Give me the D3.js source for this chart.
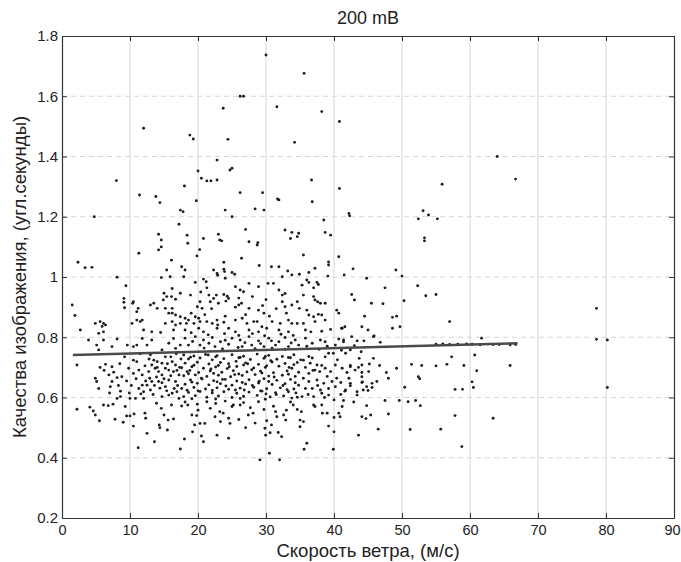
<html lang="ru">
<head>
    <title>200 mB</title>
    <meta charset="utf-8">
    <script src="https://d3js.org/d3.v7.min.js"></script>
    <style>
        body { margin: 0; background: #fff; }
        .chart text { font-family: "Liberation Sans", Arial, sans-serif; fill: #222; }
        .axis path, .axis line { stroke: #333; }
        .axis text { font-size: 15px; }
    </style>
</head>
<body>
<svg class="chart"></svg>
<script>
// ---- data ----
var xTicks = [0, 10, 20, 30, 40, 50, 60, 70, 80, 90];
var xTickLabels = ["0", "10", "20", "30", "40", "50", "60", "70", "80", "90"];
var yTicks = [0.2, 0.4, 0.6, 0.8, 1.0, 1.2, 1.4, 1.6, 1.8];
var yTickLabels = ["0.2", "0.4", "0.6", "0.8", "1", "1.2", "1.4", "1.6", "1.8"];

// fit line: speed vs seeing
var trendSpeed = [1.6, 67];
var trendSeeing = [0.741, 0.780];

// sparse outliers, seeing > 1.1
var pointsHigh = [
    [30.0,1.737],[35.6,1.676],[26.2,1.600],[26.7,1.600],[23.7,1.560],[31.6,1.565],[38.2,1.549],[40.8,1.516],
    [12.0,1.494],[18.8,1.471],[19.3,1.458],[24.4,1.457],[34.2,1.447],[64.0,1.400],[22.8,1.388],[25.0,1.361],
    [24.7,1.355],[20.0,1.352],[20.5,1.328],[21.3,1.319],[21.9,1.319],[22.8,1.322],[8.0,1.320],[36.7,1.322],
    [66.7,1.325],[55.9,1.308],[18.0,1.302],[40.8,1.294],[11.4,1.272],[13.8,1.267],[26.2,1.280],[29.5,1.280],
    [31.7,1.259],[14.4,1.247],[19.75,1.253],[31.9,1.256],[36.8,1.250],[4.75,1.200],[17.4,1.222],[17.8,1.217],
    [24.0,1.222],[28.4,1.226],[29.7,1.222],[25.0,1.200],[17.2,1.175],[42.2,1.211],[42.3,1.203],[38.5,1.189],
    [53.1,1.220],[52.4,1.193],[53.9,1.206],[55.2,1.193],[27.0,1.158],[32.8,1.156],[33.8,1.148],[34.8,1.145],
    [38.7,1.148],[39.5,1.139],[14.2,1.142],[14.6,1.123],[18.4,1.139],[18.5,1.112],[20.8,1.128],[23.0,1.142],
    [23.2,1.123],[23.5,1.120],[27.5,1.117],[28.8,1.114],[28.7,1.106],[33.6,1.128],[34.6,1.134],[53.3,1.120],
    [53.3,1.130]
];

// 0.8 .. 1.1
var pointsUpper = [
    [14.6,1.100],[14.2,1.090],[11.3,1.079],[16.1,1.056],[2.35,1.049],[3.4,1.031],[4.4,1.032],[15.4,1.023],
    [8.1,0.999],[14.6,0.998],[9.4,0.971],[16.2,0.962],[15.0,0.946],[15.4,0.935],[16.1,0.935],[16.7,0.926],
    [17.4,0.946],[1.5,0.907],[1.9,0.872],[9.1,0.929],[9.1,0.916],[9.2,0.898],[10.4,0.913],[13.0,0.907],
    [13.5,0.913],[14.0,0.896],[15.2,0.896],[16.2,0.896],[16.2,0.880],[16.7,0.874],[17.4,0.868],[11.0,0.885],
    [15.7,0.880],[4.9,0.846],[5.6,0.852],[6.1,0.846],[6.4,0.841],[5.9,0.836],[2.7,0.824],[10.3,0.846],
    [11.0,0.857],[11.5,0.852],[11.8,0.857],[15.2,0.846],[16.2,0.852],[16.7,0.841],[17.4,0.846],[12.0,0.824],
    [13.2,0.818],[14.5,0.816],[16.4,0.824],[5.4,0.813],[6.1,0.818],[10.5,0.918],[15.9,1.001],[14.9,0.924],
    [11.2,0.896],
    [20.25,1.091],[19.85,1.070],[26.4,1.062],[23.8,1.049],[17.6,1.034],[18.1,1.023],[29.0,1.038],[30.8,1.034],
    [31.9,1.034],[23.8,1.026],[23.9,1.018],[22.3,1.023],[22.8,1.012],[22.9,1.006],[33.2,1.020],[32.4,1.001],
    [33.8,1.007],[34.9,1.009],[25.0,1.015],[25.4,1.009],[17.9,1.001],[19.6,0.982],[20.8,0.993],[21.2,0.984],
    [24.0,0.996],[21.3,0.964],[25.5,0.968],[26.2,0.957],[26.7,0.951],[27.5,0.979],[28.9,0.968],[30.3,0.979],
    [31.1,0.979],[31.9,0.957],[32.4,0.940],[32.8,0.945],[18.9,0.940],[21.6,0.940],[22.3,0.929],[22.7,0.940],
    [23.8,0.942],[24.3,0.936],[20.3,0.918],[21.8,0.918],[23.0,0.913],[24.1,0.920],[24.5,0.929],[26.0,0.907],
    [26.4,0.913],[27.5,0.896],[28.9,0.890],[29.7,0.880],[32.4,0.918],[32.8,0.901],[33.8,0.907],[34.6,0.918],
    [34.9,0.896],[19.9,0.901],[20.6,0.896],[18.1,0.863],[18.6,0.857],[19.6,0.868],[20.1,0.863],[20.3,0.852],
    [19.4,0.846],[18.3,0.846],[21.3,0.852],[22.1,0.846],[22.8,0.857],[22.9,0.841],[23.8,0.850],[25.5,0.857],
    [26.5,0.863],[27.2,0.846],[28.2,0.852],[28.7,0.852],[29.4,0.835],[30.9,0.852],[32.1,0.846],[33.3,0.857],
    [33.8,0.846],[34.6,0.846],[18.1,0.824],[20.1,0.830],[20.8,0.818],[22.8,0.830],[24.5,0.830],[25.5,0.818],
    [27.5,0.824],[28.9,0.818],[30.1,0.830],[31.9,0.824],[33.3,0.818],
    [35.5,1.073],[40.7,1.067],[39.2,1.040],[39.2,1.050],[37.2,1.029],[36.3,1.015],[39.1,1.003],[36.0,0.990],
    [36.3,0.982],[37.5,0.982],[37.7,0.975],[35.3,0.973],[37.0,0.964],[35.5,0.940],[37.0,0.935],[37.2,0.924],
    [37.6,0.918],[38.0,0.913],[38.7,0.913],[36.0,0.890],[36.3,0.874],[37.0,0.868],[37.7,0.876],[38.2,0.874],
    [40.4,0.890],[40.7,0.880],[35.5,0.846],[37.2,0.852],[38.7,0.857],[41.2,0.830],[35.8,0.824],[36.6,0.818],
    [38.2,0.820],[39.5,0.826],
    [42.8,1.027],[41.5,1.007],[44.8,0.996],[49.1,1.023],[50.0,1.003],[52.3,0.971],[47.5,0.964],[53.5,0.938],
    [55.0,0.942],[42.6,0.942],[43.0,0.924],[45.5,0.913],[47.2,0.911],[50.3,0.921],[78.6,0.896],[44.5,0.870],
    [48.6,0.866],[49.2,0.870],[57.0,0.852],[41.6,0.835],[41.1,0.830],[44.1,0.835],[45.0,0.824],[48.6,0.830],
    [49.7,0.835],[45.9,0.804],[42.6,0.802],
    [19.0,0.880],[21.0,0.875],[24.0,0.870],[27.0,0.875],[30.5,0.870],[33.0,0.880],[25.5,0.900],[29.5,0.905],
    [31.5,0.895],[22.0,0.895],[20.4,0.950],[28.0,0.935],[30.0,0.925],[26.0,0.930],[19.0,0.815],[21.5,0.808],
    [23.9,0.812],[26.0,0.806],[28.0,0.812],[29.8,0.805],[32.2,0.810],[34.0,0.806]
];

// dense band 0.59 .. 0.8
var pointsCore = [
    [3.9,0.791],[5.1,0.774],[5.4,0.758],[6.1,0.791],[7.35,0.769],[8.1,0.794],[9.6,0.774],[10.5,0.769],
    [11.0,0.774],[11.8,0.796],[12.5,0.774],[13.2,0.791],[14.7,0.758],[15.7,0.780],[16.4,0.796],[16.7,0.763],
    [17.4,0.774],[2.2,0.708],[5.6,0.700],[6.4,0.710],[7.35,0.702],[4.9,0.664],[5.1,0.653],[5.4,0.630],
    [6.9,0.675],[7.6,0.684],[8.1,0.666],[8.8,0.669],[7.35,0.653],[7.1,0.636],[9.8,0.697],[10.5,0.680],
    [11.3,0.691],[11.8,0.675],[10.5,0.724],[11.0,0.719],[8.1,0.597],[8.6,0.603],[10.0,0.597],[10.8,0.597],
    [12.0,0.597],[8.6,0.621],[11.3,0.630],[11.8,0.641],[12.5,0.641],[13.0,0.625],[12.0,0.619],[13.2,0.708],
    [13.7,0.697],[12.75,0.686],[14.2,0.686],[14.7,0.675],[15.2,0.697],[15.7,0.691],[14.7,0.714],[14.0,0.719],
    [13.5,0.724],[16.2,0.719],[16.7,0.708],[16.4,0.686],[17.2,0.675],[13.2,0.653],[14.2,0.653],[14.7,0.649],
    [15.2,0.636],[15.7,0.658],[16.7,0.653],[16.9,0.619],[16.2,0.614],[15.7,0.608],[14.7,0.603],[17.2,0.597],
    [13.9,0.668],[15.0,0.662],[16.0,0.672],[17.0,0.640],[13.6,0.640],[15.4,0.622],[16.5,0.630],[17.3,0.700],
    [12.9,0.664],[14.4,0.631],[17.5,0.728],[16.0,0.735],[9.2,0.735],[12.2,0.705],[8.5,0.712],
    [9.5,0.655],[10.2,0.640],[10.9,0.662],[11.6,0.612],[12.3,0.655],[13.4,0.610],[14.0,0.700],[15.5,0.712],
    [16.9,0.690],[12.8,0.728],[9.9,0.615],[8.3,0.640],[7.0,0.615],[6.2,0.690],[13.0,0.742],[15.2,0.735],
    [16.8,0.745],[11.5,0.745],
    [18.1,0.797],[19.6,0.802],[20.8,0.791],[22.1,0.799],[23.3,0.785],[25.0,0.797],[26.2,0.791],[27.5,0.802],
    [28.9,0.788],[30.4,0.797],[31.9,0.785],[32.8,0.799],[34.3,0.791],[18.6,0.774],[20.3,0.774],[22.5,0.769],
    [24.5,0.777],[26.5,0.769],[27.9,0.774],[29.7,0.769],[31.4,0.774],[33.3,0.769],[34.8,0.774],
    [19.2,0.786],[21.6,0.780],[24.0,0.790],[26.9,0.782],[29.2,0.779],[30.8,0.788],[33.7,0.781],[20.9,0.764],
    [23.6,0.761],[25.9,0.766],[28.4,0.762],[30.9,0.764],[32.8,0.760],
    [17.9,0.741],[19.4,0.738],[21.1,0.743],[22.8,0.739],[25.0,0.742],[26.7,0.737],[28.7,0.744],[30.4,0.740],
    [32.4,0.736],[34.1,0.742],[18.6,0.728],[20.3,0.731],[22.1,0.725],[23.8,0.729],[26.0,0.732],[27.7,0.726],
    [29.7,0.730],[31.6,0.727],[33.3,0.733],[35.1,0.725],[18.1,0.714],[19.9,0.717],[21.6,0.711],[23.3,0.716],
    [24.5,0.712],[27.0,0.715],[28.9,0.710],[30.9,0.718],[32.8,0.713],[34.6,0.716],[17.6,0.699],[19.1,0.702],
    [20.8,0.697],[22.6,0.701],[24.3,0.696],[25.7,0.703],[28.2,0.698],[29.9,0.700],[31.9,0.704],[33.8,0.697],
    [18.4,0.686],[20.1,0.683],[21.8,0.688],[23.5,0.684],[25.2,0.689],[27.2,0.685],[29.2,0.687],[31.1,0.682],
    [33.1,0.688],[34.8,0.684],[17.9,0.672],[19.6,0.675],[21.3,0.670],[23.0,0.674],[24.8,0.669],[26.5,0.673],
    [28.4,0.676],[30.4,0.671],[32.4,0.674],[34.3,0.670],[18.9,0.658],[20.6,0.661],[22.3,0.656],[24.0,0.660],
    [25.7,0.655],[27.5,0.659],[29.7,0.662],[31.6,0.657],[33.6,0.660],[18.1,0.644],[19.9,0.647],[21.6,0.642],
    [23.3,0.646],[25.0,0.641],[27.0,0.645],[28.9,0.648],[30.9,0.643],[32.8,0.646],[34.8,0.641],[17.6,0.630],
    [19.4,0.633],[21.1,0.628],[22.8,0.632],[24.5,0.627],[26.2,0.631],[28.2,0.634],[30.1,0.629],[32.1,0.632],
    [34.1,0.628],[18.6,0.617],[20.3,0.620],[22.1,0.615],[23.8,0.619],[25.7,0.614],[27.5,0.618],[29.4,0.621],
    [31.4,0.616],[33.3,0.619],[17.9,0.603],[19.6,0.606],[21.3,0.601],[23.0,0.605],[25.0,0.600],[26.7,0.604],
    [28.7,0.607],[30.6,0.602],[32.6,0.605],[34.6,0.601],[18.9,0.734],[22.6,0.735],[26.2,0.733],[29.9,0.736],
    [33.6,0.732],[19.4,0.707],[23.0,0.706],[26.7,0.708],[30.1,0.705],[34.1,0.709],[18.6,0.679],[22.3,0.680],
    [26.0,0.678],[29.4,0.681],[33.3,0.677],[19.1,0.651],[22.8,0.652],[26.5,0.650],[30.4,0.653],[34.3,0.649],
    [18.4,0.624],[22.1,0.623],[25.5,0.625],[29.2,0.622],[33.1,0.626],[19.1,0.596],[22.6,0.595],[26.2,0.597],
    [29.9,0.594],[33.8,0.598],
    [18.8,0.690],[20.5,0.664],[21.9,0.695],[24.1,0.638],[25.4,0.676],[26.8,0.625],[27.9,0.692],[29.0,0.654],
    [30.0,0.612],[31.2,0.668],[32.5,0.640],[33.4,0.700],[34.4,0.615],[20.0,0.622],[23.6,0.660],[27.3,0.712],
    [30.7,0.722],[21.5,0.741],[25.6,0.720],[31.5,0.610],[28.0,0.640],[24.6,0.702],
    [38.0,0.791],[38.7,0.785],[40.7,0.794],[41.4,0.785],[43.4,0.788],[44.4,0.788],[45.8,0.802],[46.8,0.783],
    [35.8,0.797],[36.8,0.780],[40.2,0.774],[42.4,0.758],[39.2,0.747],[39.9,0.747],[41.7,0.747],[36.3,0.736],
    [36.8,0.731],[35.5,0.724],[36.5,0.714],[35.8,0.700],[37.5,0.708],[38.2,0.706],[37.2,0.691],[37.9,0.686],
    [38.7,0.697],[39.5,0.686],[36.3,0.680],[40.2,0.708],[41.2,0.697],[42.4,0.702],[43.1,0.691],[44.1,0.669],
    [45.1,0.686],[44.2,0.652],[35.5,0.664],[36.3,0.653],[37.5,0.658],[38.5,0.647],[39.7,0.653],[40.4,0.664],
    [42.2,0.664],[42.4,0.647],[35.8,0.630],[36.8,0.630],[38.0,0.625],[38.2,0.614],[39.2,0.630],[40.2,0.636],
    [41.7,0.625],[35.3,0.603],[37.0,0.603],[39.2,0.608],[40.0,0.592],[43.4,0.608],[45.6,0.647],[44.8,0.636],
    [41.4,0.791],[41.1,0.757],
    [36.0,0.770],[37.8,0.760],[39.0,0.770],[43.0,0.772],[44.0,0.752],[36.9,0.690],[39.0,0.670],[41.0,0.650],
    [43.6,0.700],[38.6,0.600],[36.2,0.610],[37.6,0.640],[41.0,0.610],[43.7,0.730],[40.5,0.725],[38.7,0.735],
    [61.7,0.797],[78.6,0.793],[80.2,0.791],[55.0,0.777],[56.0,0.778],[57.0,0.776],[58.2,0.777],[59.5,0.778],
    [60.3,0.777],[61.5,0.775],[63.4,0.776],[64.3,0.776],[65.9,0.775],[66.7,0.776],[60.7,0.741],[57.3,0.735],
    [51.4,0.710],[52.9,0.706],[55.0,0.705],[56.6,0.710],[59.1,0.706],[65.9,0.706],[61.0,0.689],[60.3,0.652],
    [60.5,0.633],[57.8,0.627],[58.9,0.627],[80.2,0.633],[49.2,0.697],[52.4,0.669],[52.6,0.662],[50.4,0.634],
    [47.7,0.683],[48.0,0.664],[45.8,0.730],[45.2,0.711],[46.7,0.706],[44.1,0.708],[44.1,0.683],[44.1,0.650],
    [46.3,0.653],[45.6,0.633],[42.4,0.706],[41.9,0.683],[42.4,0.639],[41.6,0.621],[43.4,0.619],[44.3,0.625],
    [45.0,0.623]
];

// below 0.59
var pointsLower = [
    [2.2,0.561],[4.1,0.568],[4.9,0.542],[5.5,0.523],[4.6,0.555],[6.1,0.575],[6.8,0.573],[7.5,0.578],
    [7.8,0.528],[9.0,0.518],[9.3,0.570],[10.0,0.539],[9.5,0.539],[10.5,0.505],[10.6,0.545],[11.2,0.433],
    [12.2,0.548],[12.3,0.531],[12.5,0.481],[13.6,0.453],[13.9,0.581],[14.3,0.509],[14.4,0.500],[14.6,0.564],
    [15.0,0.542],[15.6,0.525],[15.5,0.492],[16.1,0.575],[16.4,0.529],[17.4,0.429],[17.6,0.572],[18.0,0.462],
    [18.5,0.575],[19.1,0.542],[19.2,0.486],[19.8,0.540],[19.5,0.509],[20.0,0.558],[20.3,0.514],[20.5,0.472],
    [20.8,0.453],[21.0,0.514],[21.8,0.564],[21.3,0.586],[22.5,0.536],[22.8,0.475],[23.2,0.553],[23.7,0.548],
    [24.5,0.465],[24.5,0.531],[24.7,0.514],[25.0,0.570],[25.2,0.575],[26.2,0.575],[27.4,0.542],[28.1,0.548],
    [28.9,0.586],[29.1,0.393],[29.85,0.498],[29.95,0.475],[30.6,0.483],[30.1,0.523],[30.5,0.415],[30.8,0.509],
    [31.6,0.536],[32.0,0.393],[31.8,0.484],[32.3,0.470],[32.6,0.542],[32.9,0.525],[33.0,0.558],[34.0,0.575],
    [35.0,0.525],[35.0,0.503],[35.6,0.428],[36.0,0.448],[35.2,0.553],[37.0,0.575],[38.3,0.548],[39.2,0.505],
    [39.9,0.428],[40.0,0.486],[40.0,0.534],
    [18.1,0.585],[19.9,0.578],[22.6,0.580],[24.0,0.588],[26.7,0.583],[27.7,0.566],[29.7,0.560],[31.1,0.571],
    [33.6,0.585],[34.6,0.560],[23.3,0.520],[26.0,0.527],[28.4,0.515],[27.0,0.500],[31.4,0.553],
    [38.2,0.575],[37.2,0.570],[41.2,0.570],[39.0,0.548],[40.7,0.548],[35.5,0.520],[42.9,0.585],
    [41.4,0.590],[44.8,0.573],[47.5,0.590],[49.6,0.590],[50.9,0.586],[52.0,0.590],[52.7,0.573],[40.9,0.536],
    [44.1,0.536],[44.7,0.530],[45.4,0.542],[48.0,0.545],[57.8,0.540],[63.4,0.531],[43.6,0.475],[46.5,0.495],
    [51.2,0.494],[55.7,0.495],[58.8,0.437]
];

// ---- drawing ----
var margin = {top: 36, right: 7, bottom: 44, left: 62},
    width = 681 - margin.left - margin.right,
    height = 562 - margin.top - margin.bottom;

var svg = d3.select(".chart")
    .attr("width", 681)
    .attr("height", 562);

var chart = svg.append("g")
    .attr("transform", "translate(" + margin.left + "," + margin.top + ")");

var x = d3.scaleLinear().domain([0, 90]).range([0, width]);
var y = d3.scaleLinear().domain([0.2, 1.8]).range([height, 0]);

// grid
chart.append("g").selectAll("line")
    .data(xTicks.slice(1, -1))
    .enter().append("line")
    .attr("x1", function(d) { return x(d); })
    .attr("x2", function(d) { return x(d); })
    .attr("y1", 0).attr("y2", height)
    .attr("stroke", "#e4e4e4")
    .attr("stroke-width", 1.5);

chart.append("g").selectAll("line")
    .data(yTicks.slice(1, -1))
    .enter().append("line")
    .attr("x1", 0).attr("x2", width)
    .attr("y1", function(d) { return y(d); })
    .attr("y2", function(d) { return y(d); })
    .attr("stroke", "#d6d6d6")
    .attr("stroke-dasharray", "5,4")
    .attr("stroke-width", 1);

// points
var allPoints = pointsHigh.concat(pointsUpper, pointsCore, pointsLower);
chart.append("g").selectAll("circle")
    .data(allPoints)
    .enter().append("circle")
    .attr("cx", function(d) { return x(d[0]); })
    .attr("cy", function(d) { return y(d[1]); })
    .attr("r", 1.45)
    .attr("fill", "#1e1e1e");

// trend line
var line = d3.line()
    .x(function(d) { return x(d[0]); })
    .y(function(d) { return y(d[1]); });

chart.append("path")
    .datum(trendSpeed.map(function(s, i) { return [s, trendSeeing[i]]; }))
    .attr("d", line)
    .attr("fill", "none")
    .attr("stroke", "#4a4a4a")
    .attr("stroke-width", 2.6);

// axes (box with inward ticks)
var xAxisG = chart.append("g")
    .attr("class", "axis")
    .attr("transform", "translate(0," + height + ")")
    .call(d3.axisBottom(x).tickValues(xTicks).tickSizeInner(-5).tickSizeOuter(0).tickPadding(7)
        .tickFormat(function(d, i) { return xTickLabels[i]; }));
xAxisG.selectAll("text").style("font-size", "14.5px");
// last label sits right on the page edge, nudge it in a little
xAxisG.selectAll("text").filter(function(d) { return d === 90; }).attr("dx", -2);

chart.append("g")
    .attr("class", "axis")
    .call(d3.axisLeft(y).tickValues(yTicks).tickSizeInner(-5).tickSizeOuter(0).tickPadding(4)
        .tickFormat(function(d, i) { return yTickLabels[i]; }));

chart.append("g")
    .attr("class", "axis")
    .call(d3.axisTop(x).tickValues(xTicks).tickSizeInner(-5).tickSizeOuter(0).tickFormat(""));

chart.append("g")
    .attr("class", "axis")
    .attr("transform", "translate(" + width + ",0)")
    .call(d3.axisRight(y).tickValues(yTicks).tickSizeInner(-5).tickSizeOuter(0).tickFormat(""));

chart.selectAll(".axis .domain").attr("stroke-width", 1.2);

// labels
svg.append("text")
    .attr("x", margin.left + width / 2)
    .attr("y", 24)
    .attr("text-anchor", "middle")
    .style("font-size", "18px")
    .text("200 mB");

svg.append("text")
    .attr("x", margin.left + width / 2)
    .attr("y", 557)
    .attr("text-anchor", "middle")
    .style("font-size", "18.5px")
    .text("Скорость ветра, (м/с)");

svg.append("text")
    .attr("transform", "translate(26," + (margin.top + height / 2) + ") rotate(-90)")
    .attr("text-anchor", "middle")
    .style("font-size", "18.5px")
    .text("Качества изображения, (угл.секунды)");
</script>
</body>
</html>
